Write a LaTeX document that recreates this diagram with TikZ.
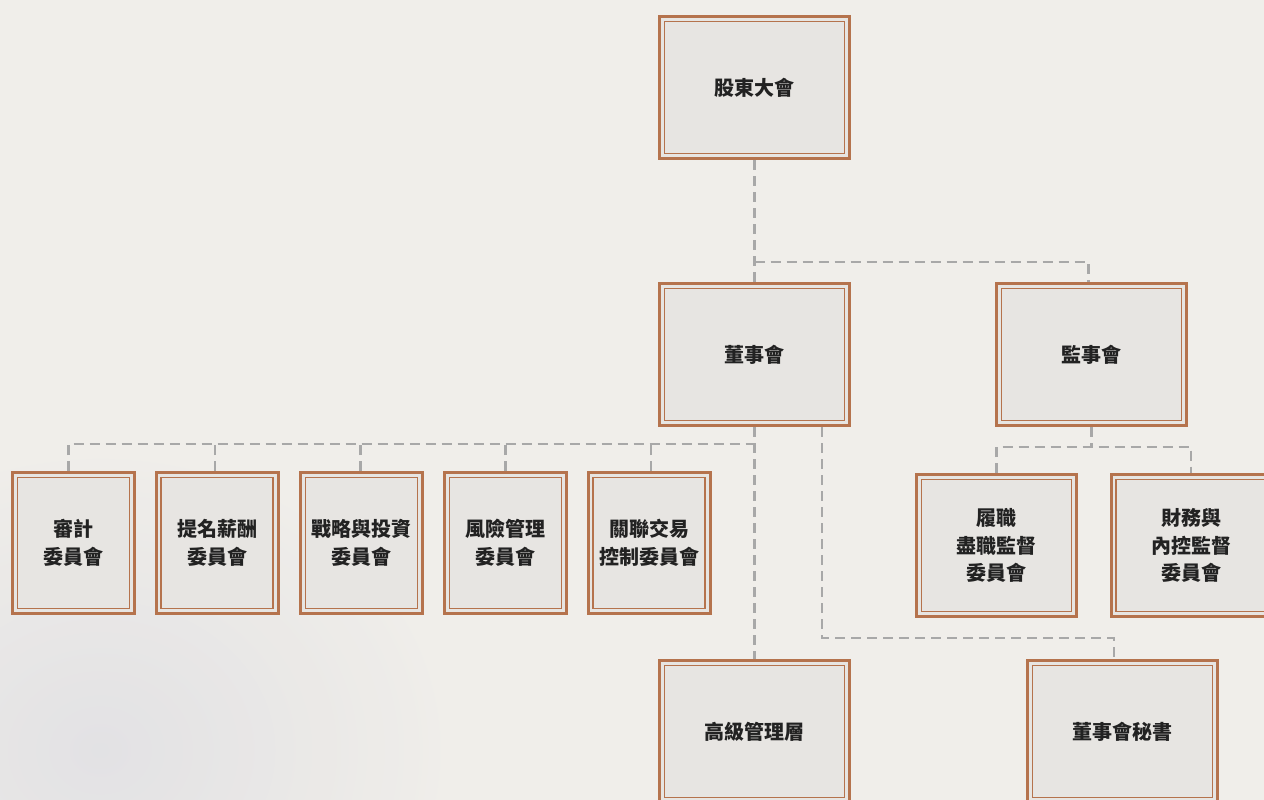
\documentclass[tikz,border=0pt]{standalone}
\usepackage{fontspec}
\newfontfamily\cjk{Noto Sans CJK TC}
\usetikzlibrary{calc}
\definecolor{paper}{HTML}{F0EEEA}
\definecolor{boxfill}{HTML}{E7E5E2}
\definecolor{brownline}{HTML}{B5734D}
\definecolor{connline}{HTML}{A8A8A8}
\definecolor{shadow}{HTML}{DDDDE2}
\definecolor{txt}{HTML}{222222}
\tikzset{
  orgbox/.style={draw=brownline, line width=3pt, fill=boxfill, text=txt,
    align=center, inner sep=2pt,
    font=\cjk\bfseries\fontsize{20}{27.5}\selectfont,
    path picture={\draw[brownline, line width=1.2pt]
      ([shift={(5pt,5pt)}]path picture bounding box.south west) rectangle
      ([shift={(-5pt,-5pt)}]path picture bounding box.north east);}},
  bigbox/.style={orgbox, minimum width=190pt, minimum height=142pt},
  combox/.style={orgbox, minimum width=122pt, minimum height=141pt},
  supbox/.style={orgbox, minimum width=160pt, minimum height=142pt},
  conn/.style={draw=connline, line width=2.8pt, dash pattern=on 10pt off 6pt}
}
\begin{document}
\begin{tikzpicture}[x=1pt,y=-1pt]
\useasboundingbox (0,0) rectangle (1264,800);
\fill[paper] (0,0) rectangle (1264,800);
\begin{scope}
\clip (0,0) rectangle (1264,800);
\shade[inner color=shadow, outer color=paper, opacity=0.7] (-250,450) rectangle (450,1050);
\end{scope}

% nodes
\node[bigbox] (gm) at (754.5,87.5) {股東大會};
\node[bigbox] (bd) at (754.5,354.5) {董事會};
\node[bigbox] (sup) at (1091.5,354.5) {監事會};
\node[combox] (c1) at (73.5,543) {審計\\委員會};
\node[combox] (c2) at (217,543) {提名薪酬\\委員會};
\node[combox] (c3) at (361.5,543) {戰略與投資\\委員會};
\node[combox] (c4) at (505.5,543) {風險管理\\委員會};
\node[combox] (c5) at (649,543) {關聯交易\\控制委員會};
\node[supbox] (lz) at (996.5,545.5) {履職\\盡職監督\\委員會};
\node[supbox] (cw) at (1191,545.5) {財務與\\內控監督\\委員會};
\node[bigbox] (sm) at (754.5,731.5) {高級管理層};
\node[bigbox] (ss) at (1122.5,731.5) {董事會秘書};

% bus coordinates
\coordinate (b0) at (0,262);
\coordinate (b1) at (0,444);
\coordinate (b2) at (0,447);
\coordinate (b3) at (0,638);

% connectors
\draw[conn] (gm.south) -- (bd.north);
\draw[conn] (gm.south |- b0) -- ([xshift=-3pt]sup.north |- b0) -- ([xshift=-3pt]sup.north);
\draw[conn] (bd.south) -- (sm.north);
\draw[conn] ([xshift=-5pt]c1.north) -- ([xshift=-5pt]c1.north |- b1) -- (bd.south |- b1);
\draw[conn] ([xshift=-2pt]c2.north) -- ([xshift=-2pt]c2.north |- b1);
\draw[conn] ([xshift=-1pt]c3.north) -- ([xshift=-1pt]c3.north |- b1);
\draw[conn] (c4.north) -- (c4.north |- b1);
\draw[conn] ([xshift=2pt]c5.north) -- ([xshift=2pt]c5.north |- b1);
\draw[conn] ([xshift=67.5pt]bd.south) -- ([xshift=67.5pt]bd.south |- b3) -- ([xshift=-8.5pt]ss.north |- b3) -- ([xshift=-8.5pt]ss.north);
\draw[conn] (sup.south) -- (sup.south |- b2);
\draw[conn] (lz.north) -- (lz.north |- b2) -- (cw.north |- b2) -- (cw.north);
\end{tikzpicture}
\end{document}
